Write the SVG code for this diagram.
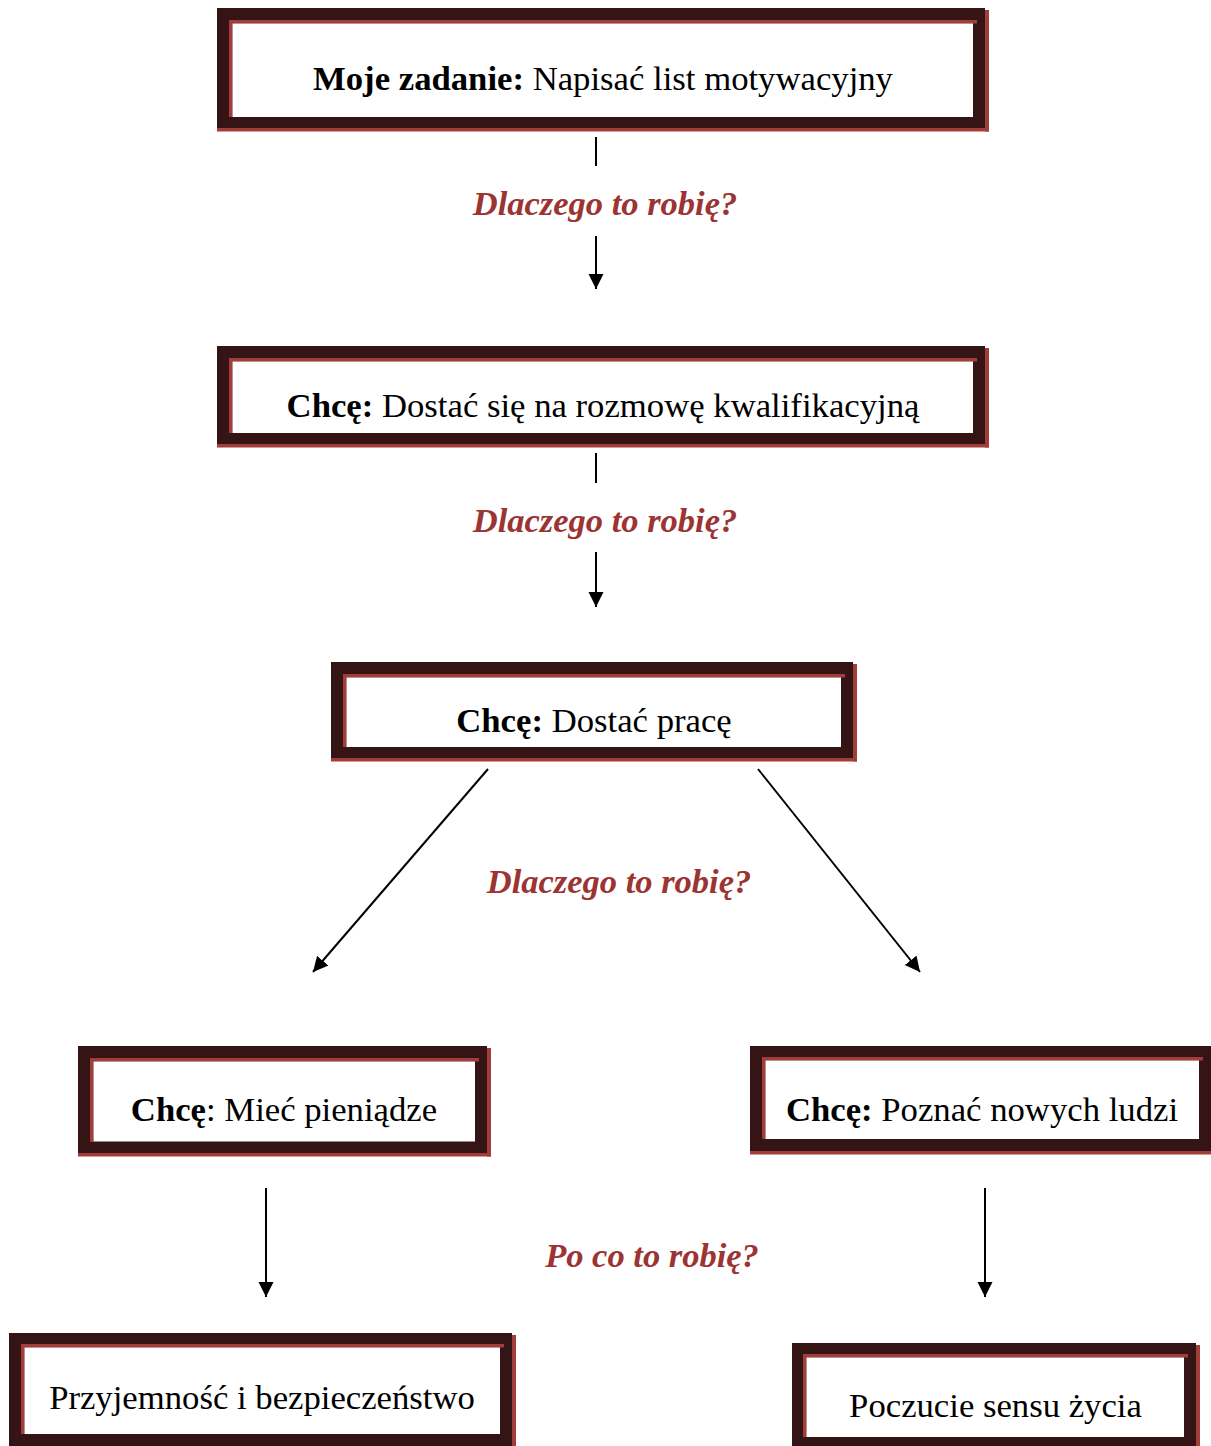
<svg xmlns="http://www.w3.org/2000/svg" width="1211" height="1446" viewBox="0 0 1211 1446">
<defs>
<style>
.dark{fill:#341414}
.red{fill:#a33d3a}
.white{fill:#ffffff}
.t{font-family:"Liberation Serif","Times New Roman",serif;font-size:34.7px;fill:#000;text-anchor:middle}
.b{font-weight:bold}
.q{font-family:"Liberation Serif","Times New Roman",serif;font-size:34.5px;font-weight:bold;font-style:italic;fill:#9b3432;text-anchor:middle}
.ln{stroke:#000;stroke-width:2;fill:none}
</style>
<marker id="ah" markerUnits="userSpaceOnUse" markerWidth="16" markerHeight="16" refX="15" refY="7.5" orient="auto">
<path d="M0,0 L15,7.5 L0,15 Z" fill="#000"/>
</marker>
</defs>
<rect width="1211" height="1446" fill="#fff"/>

<g id="box1">
<rect class="dark" x="217" y="8" width="768" height="120"/>
<rect class="red" x="217" y="128" width="772" height="3.5"/>
<rect class="red" x="985" y="10" width="4" height="121.5"/>
<rect class="red" x="229" y="20" width="748" height="3.5"/>
<rect class="red" x="229" y="20" width="3.5" height="97"/>
<rect class="white" x="232.5" y="23.5" width="740.5" height="93.5"/>
<text class="t" x="603" y="90"><tspan class="b">Moje zadanie:</tspan> Napisać list motywacyjny</text>
</g>

<g id="box2">
<rect class="dark" x="217" y="346" width="768" height="98"/>
<rect class="red" x="217" y="444" width="772" height="3.5"/>
<rect class="red" x="985" y="348" width="4" height="99.5"/>
<rect class="red" x="229" y="358" width="748" height="3.5"/>
<rect class="red" x="229" y="358" width="3.5" height="75"/>
<rect class="white" x="232.5" y="361.5" width="740.5" height="71.5"/>
<text class="t" x="603" y="417"><tspan class="b">Chcę:</tspan> Dostać się na rozmowę kwalifikacyjną</text>
</g>

<g id="box3">
<rect class="dark" x="331" y="662" width="522" height="96"/>
<rect class="red" x="331" y="758" width="526" height="3.5"/>
<rect class="red" x="853" y="664" width="4" height="97.5"/>
<rect class="red" x="343" y="674" width="502" height="3.5"/>
<rect class="red" x="343" y="674" width="3.5" height="73"/>
<rect class="white" x="346.5" y="677.5" width="494.5" height="69.5"/>
<text class="t" x="594" y="732"><tspan class="b">Chcę:</tspan> Dostać pracę</text>
</g>

<g id="box4">
<rect class="dark" x="78" y="1046" width="409" height="107"/>
<rect class="red" x="78" y="1153" width="413" height="3.5"/>
<rect class="red" x="487" y="1048" width="4" height="108.5"/>
<rect class="red" x="90" y="1058" width="389" height="3.5"/>
<rect class="red" x="90" y="1058" width="3.5" height="84"/>
<rect class="white" x="93.5" y="1061.5" width="381.5" height="80"/>
<text class="t" x="284" y="1121"><tspan class="b">Chcę</tspan>: Mieć pieniądze</text>
</g>

<g id="box5">
<rect class="dark" x="750" y="1046" width="461" height="105"/>
<rect class="red" x="750" y="1151" width="461" height="3.5"/>
<rect class="red" x="762" y="1057" width="441" height="3.5"/>
<rect class="red" x="762" y="1057" width="3.5" height="82"/>
<rect class="white" x="765.5" y="1060.5" width="433.5" height="78.5"/>
<text class="t" x="982" y="1121"><tspan class="b">Chcę:</tspan> Poznać nowych ludzi</text>
</g>

<g id="box6">
<rect class="dark" x="9" y="1333" width="503" height="113"/>
<rect class="red" x="512" y="1335" width="4" height="111"/>
<rect class="red" x="21" y="1344" width="483" height="3.5"/>
<rect class="red" x="21" y="1344" width="3.5" height="90"/>
<rect class="white" x="24.5" y="1347.5" width="475.5" height="86.5"/>
<text class="t" x="262" y="1409">Przyjemność i bezpieczeństwo</text>
</g>

<g id="box7">
<rect class="dark" x="792" y="1343" width="404" height="103"/>
<rect class="red" x="1196" y="1345" width="4" height="101"/>
<rect class="red" x="803" y="1354" width="385" height="3.5"/>
<rect class="red" x="803" y="1354" width="3.5" height="83"/>
<rect class="white" x="806.5" y="1357.5" width="377.5" height="79.5"/>
<text class="t" x="995.5" y="1417">Poczucie sensu życia</text>
</g>

<g id="labels">
<text class="q" x="605" y="215">Dlaczego to robię?</text>
<text class="q" x="605" y="532">Dlaczego to robię?</text>
<text class="q" x="619" y="893">Dlaczego to robię?</text>
<text class="q" x="652" y="1267">Po co to robię?</text>
</g>

<g id="connectors">
<line class="ln" x1="596" y1="137" x2="596" y2="166"/>
<line class="ln" x1="596" y1="236" x2="596" y2="289" marker-end="url(#ah)"/>
<line class="ln" x1="596" y1="453" x2="596" y2="483"/>
<line class="ln" x1="596" y1="552" x2="596" y2="607" marker-end="url(#ah)"/>
<line class="ln" x1="488" y1="769" x2="313" y2="972" marker-end="url(#ah)"/>
<line class="ln" x1="758" y1="769" x2="920" y2="972" marker-end="url(#ah)"/>
<line class="ln" x1="266" y1="1188" x2="266" y2="1297" marker-end="url(#ah)"/>
<line class="ln" x1="985" y1="1188" x2="985" y2="1297" marker-end="url(#ah)"/>
</g>
</svg>
